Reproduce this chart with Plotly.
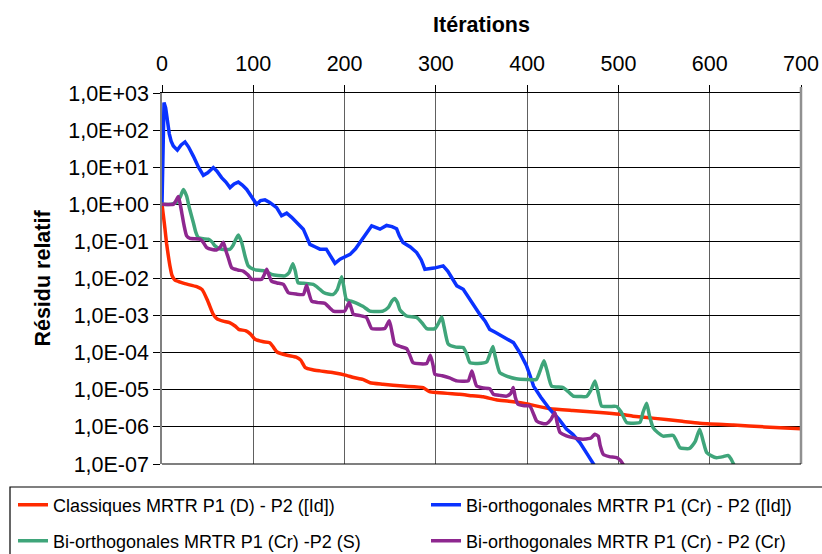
import plotly.graph_objects as go

# ---------------- data ----------------
# x: iteration, v: log10 of the relative residual
red_x = [0, 1.5, 3.3, 5, 7, 9, 11, 14, 20, 25, 38, 44, 50, 56, 60, 67, 74, 80, 84, 92, 97, 102, 110,
         118, 122, 126, 137, 147, 152, 157, 165, 173, 188, 202, 210, 220, 228, 242, 264, 286, 293,
         326, 340, 352, 366, 380, 400, 407, 425, 450, 480, 502, 516, 540, 570, 589, 626, 660, 700]
red_v = [0, -0.3, -0.67, -1.05, -1.4, -1.7, -1.92, -2.04, -2.1, -2.14, -2.22, -2.3, -2.6, -2.96, -3.08,
         -3.15, -3.19, -3.28, -3.37, -3.41, -3.5, -3.64, -3.70, -3.73, -3.85, -3.98, -4.07, -4.12, -4.2,
         -4.40, -4.46, -4.49, -4.54, -4.61, -4.67, -4.72, -4.81, -4.85, -4.90, -4.94, -5.05, -5.12, -5.16,
         -5.19, -5.27, -5.31, -5.38, -5.42, -5.51, -5.56, -5.61, -5.66, -5.71, -5.77, -5.85, -5.90, -5.95,
         -6.0, -6.05]

blue_x = [0, 0.8, 1.5, 2.2, 4, 6, 8, 10, 12.4, 16.8, 21, 25.2, 29, 34.3, 40, 45.3, 50, 56.2, 60, 65.3,
          70, 74.5, 79, 83.6, 88, 92.8, 98, 103.7, 108, 112.8, 118, 125.6, 131, 136.6, 142, 147.5, 154.8,
          158, 162, 168, 173, 180, 185, 189.5, 195, 200, 206, 212, 217, 223, 229.7, 234, 238.8, 246, 252,
          257, 260, 264, 272, 279, 284, 288, 298, 308, 313, 318, 323, 330, 337, 342, 348, 354, 359, 365,
          372, 378, 385, 392, 399.4, 403, 407, 415, 425, 435, 443, 450, 457.8, 465, 472.4, 474]
blue_v = [0, 1.5, 2.5, 2.74, 2.6, 2.2, 1.9, 1.7, 1.57, 1.46, 1.6, 1.68, 1.55, 1.30, 1.0, 0.78, 0.85, 0.99,
          0.9, 0.72, 0.6, 0.45, 0.55, 0.60, 0.52, 0.40, 0.2, 0.0, 0.1, 0.12, 0.05, -0.09, -0.31, -0.24,
          -0.35, -0.49, -0.67, -0.85, -1.08, -1.15, -1.21, -1.21, -1.4, -1.59, -1.48, -1.42, -1.35, -1.2,
          -1.03, -0.8, -0.58, -0.62, -0.67, -0.57, -0.6, -0.66, -0.85, -1.03, -1.15, -1.30, -1.5, -1.75,
          -1.72, -1.66, -1.8, -2.0, -2.2, -2.29, -2.56, -2.75, -2.96, -3.15, -3.37, -3.45, -3.55, -3.62,
          -3.73, -4.0, -4.36, -4.6, -4.90, -5.2, -5.53, -5.8, -6.06, -6.2, -6.42, -6.7, -6.96, -7.05]

green_x = [0, 10, 16, 20, 23.4, 27, 30, 34.3, 37, 39.8, 45, 50.7, 55, 58, 62, 65.4, 70, 74.5, 78, 80,
           83.6, 87.3, 91, 94.5, 100, 106, 112.8, 117, 120, 127, 134.7, 139, 143.4, 146, 149, 155, 160,
           165.7, 171, 177, 182, 187.6, 192, 196.8, 199, 202, 209.5, 220, 227.8, 235, 242, 248, 252, 255,
           258, 260.7, 268, 279, 285, 290, 299, 303, 306.5, 309, 313.6, 322, 330, 334, 337.3, 346, 355.6,
           359, 362.5, 365, 370, 377.5, 388, 399.4, 410, 414, 418.4, 422, 426.8, 439.5, 445, 450.5, 458,
           465, 470, 474.3, 478, 481.6, 490, 498, 503, 509, 523.5, 527, 530.9, 534, 538, 543, 549, 560,
           564, 567.4, 578, 584, 589, 593, 596.6, 602, 607.5, 615, 620, 623, 625.7, 627]
green_v = [0, 0.0, 0.05, 0.2, 0.40, 0.22, -0.1, -0.49, -0.75, -0.90, -0.93, -0.94, -1.02, -1.12, -1.19,
           -1.21, -1.22, -1.21, -1.1, -0.99, -0.83, -1.03, -1.4, -1.66, -1.75, -1.78, -1.80, -1.85, -1.89,
           -1.92, -1.93, -1.85, -1.60, -1.8, -2.11, -2.13, -2.14, -2.16, -2.25, -2.38, -2.42, -2.43, -2.3,
           -1.95, -2.2, -2.56, -2.63, -2.75, -2.88, -2.89, -2.88, -2.78, -2.6, -2.54, -2.65, -2.85, -3.01,
           -3.05, -3.2, -3.35, -3.35, -3.2, -3.04, -3.3, -3.77, -3.85, -3.86, -4.05, -4.27, -4.29, -4.25,
           -4.05, -3.83, -4.1, -4.54, -4.63, -4.7, -4.72, -4.72, -4.5, -4.22, -4.5, -4.90, -4.94, -5.05,
           -5.17, -5.18, -5.18, -5.0, -4.76, -5.1, -5.44, -5.45, -5.45, -5.6, -5.88, -5.88, -5.6, -5.36,
           -5.7, -6.02, -6.15, -6.25, -6.23, -6.4, -6.56, -6.58, -6.4, -6.06, -6.4, -6.69, -6.78, -6.83,
           -6.8, -6.77, -6.85, -6.98, -7.05]

purple_x = [0, 12.4, 15, 17.9, 20, 21.6, 24, 27, 30.7, 41.6, 45, 49, 55, 60, 64, 67.2, 70, 72.6, 76.3, 83,
            89, 94, 98.2, 104, 109.2, 112, 114.7, 117, 120, 126, 133, 138.3, 147, 154.8, 158.4, 161, 164,
            171, 178.5, 184, 187.6, 194, 200, 205, 208, 209.5, 217, 224, 229.7, 237, 244, 249, 252, 255,
            262, 268, 272, 275, 283, 290, 294, 297, 299, 307, 315, 322.8, 329, 335.5, 339.5, 342, 344.7,
            352, 359, 363, 370, 377.5, 382, 384.8, 387, 390, 397, 403, 407, 410.4, 416, 421.3, 426, 430.4,
            433, 436, 443, 450.5, 456, 461.4, 470, 474, 477.9, 480, 483.4, 490, 498, 502, 504.6, 506]
purple_v = [0, 0.0, 0.08, 0.21, 0.0, -0.22, -0.55, -0.85, -0.92, -0.94, -1.02, -1.17, -1.22, -1.23, -1.15,
            -1.02, -1.25, -1.44, -1.71, -1.77, -1.80, -1.9, -2.02, -2.03, -2.02, -1.9, -1.75, -1.9, -2.07,
            -2.12, -2.16, -2.38, -2.42, -2.43, -2.18, -2.4, -2.61, -2.65, -2.67, -2.8, -2.88, -2.89, -2.88,
            -2.65, -2.85, -2.96, -3.0, -3.05, -3.35, -3.36, -3.35, -3.14, -3.45, -3.77, -3.84, -3.89, -4.1,
            -4.27, -4.3, -4.29, -4.07, -4.35, -4.58, -4.62, -4.68, -4.76, -4.77, -4.76, -4.49, -4.7, -4.90,
            -4.95, -4.97, -5.12, -5.15, -5.17, -5.1, -4.94, -5.2, -5.39, -5.43, -5.44, -5.65, -5.84, -5.9,
            -5.91, -5.8, -5.61, -5.9, -6.15, -6.24, -6.29, -6.32, -6.33, -6.3, -6.2, -6.25, -6.5, -6.74,
            -6.8, -6.83, -6.9, -6.99, -7.05]

series_names = ["Classiques MRTR P1 (D) - P2 ([Id])",
                "Bi-orthogonales MRTR P1 (Cr) - P2 ([Id])",
                "Bi-orthogonales MRTR P1 (Cr) -P2 (S)",
                "Bi-orthogonales MRTR P1 (Cr) - P2 (Cr)"]

x_ticks = [0, 100, 200, 300, 400, 500, 600, 700]
y_exponents = [-7, -6, -5, -4, -3, -2, -1, 0, 1, 2, 3]
y_ticktext = ["1,0E-07", "1,0E-06", "1,0E-05", "1,0E-04", "1,0E-03", "1,0E-02",
              "1,0E-01", "1,0E+00", "1,0E+01", "1,0E+02", "1,0E+03"]
x_title = "Itérations"
y_title = "Résidu relatif"

# ---------------- figure ----------------
FONT = "Liberation Sans, Arial, sans-serif"
W, H = 822, 554
L, R, T, B = 162, 21, 93, 90
pw, ph = W - L - R, H - T - B


def px_x(p):
    return (p - L) / pw


def px_y(p):
    return (H - B - p) / ph


colors = ["#FF2A00", "#0A32FF", "#3FA57A", "#8E278F"]
xs = [red_x, blue_x, green_x, purple_x]
vs = [red_v, blue_v, green_v, purple_v]
legends = ["legend", "legend2", "legend3", "legend4"]
shapes_line = ["spline", "linear", "spline", "spline"]
# legend entry anchors (pixels): (left, center y)
leg_pos = [(13, 505), (426, 505), (13, 541), (426, 541)]

fig = go.Figure()
for name, c, x, v, lg, sh in zip(series_names, colors, xs, vs, legends, shapes_line):
    fig.add_trace(go.Scatter(
        x=x, y=[10 ** e for e in v], mode="lines", name=name,
        line=dict(color=c, width=3.5, shape=sh, smoothing=0.5 if sh == "spline" else None),
        legend=lg, hoverinfo="skip"))

leg_common = dict(orientation="h", xref="container", yref="container", xanchor="left", yanchor="middle",
                  font=dict(size=18, family=FONT, color="black"), bgcolor="rgba(0,0,0,0)",
                  borderwidth=0)
leg_layout = {}
for lg, (lx, ly) in zip(legends, leg_pos):
    leg_layout[lg] = dict(x=lx / W, y=1 - ly / H, **leg_common)

fig.update_layout(
    width=W, height=H,
    margin=dict(l=L, r=R, t=T, b=B, pad=0, autoexpand=False),
    paper_bgcolor="white", plot_bgcolor="white",
    font=dict(family=FONT, size=21.5, color="black"),
    showlegend=True,
    xaxis=dict(side="top", range=[0, 700], tickvals=x_ticks, ticktext=[str(t) for t in x_ticks],
               showgrid=True, gridcolor="#606060", gridwidth=1.2, zeroline=False, automargin=False,
               showline=True, linecolor="black", linewidth=1.2, mirror=False,
               ticks="outside", ticklen=7, tickcolor="black", tickwidth=1, ticklabelstandoff=5,
               tickfont=dict(size=21.5), title=dict(text="<b>" + x_title + "</b>", standoff=13,
                                                  font=dict(size=21.5))),
    yaxis=dict(type="log", range=[-7, 3], tickvals=[10 ** e for e in y_exponents], ticktext=y_ticktext,
               showgrid=True, gridcolor="black", gridwidth=1.2, zeroline=False, automargin=False,
               showline=True, linecolor="#808080", linewidth=1.5,
               ticks="outside", ticklen=7, tickcolor="black", tickwidth=1,
               tickfont=dict(size=21.5), title=dict(text="<b>" + y_title + "</b>", standoff=12,
                                                  font=dict(size=21.5))),
    shapes=[
        # right border of plot area
        dict(type="line", xref="paper", yref="paper", x0=1, x1=1, y0=0, y1=px_y(87),
             line=dict(color="#909090", width=2.5)),
        # bottom border
        dict(type="line", xref="paper", yref="paper", x0=0, x1=1, y0=0, y1=0,
             line=dict(color="black", width=1.2)),
        # legend box
        dict(type="rect", xref="paper", yref="paper", x0=px_x(10), x1=px_x(835),
             y0=px_y(487), y1=px_y(570), line=dict(color="black", width=1.2),
             fillcolor="rgba(0,0,0,0)"),
    ],
    **leg_layout,
)

fig.write_html("out.html")
